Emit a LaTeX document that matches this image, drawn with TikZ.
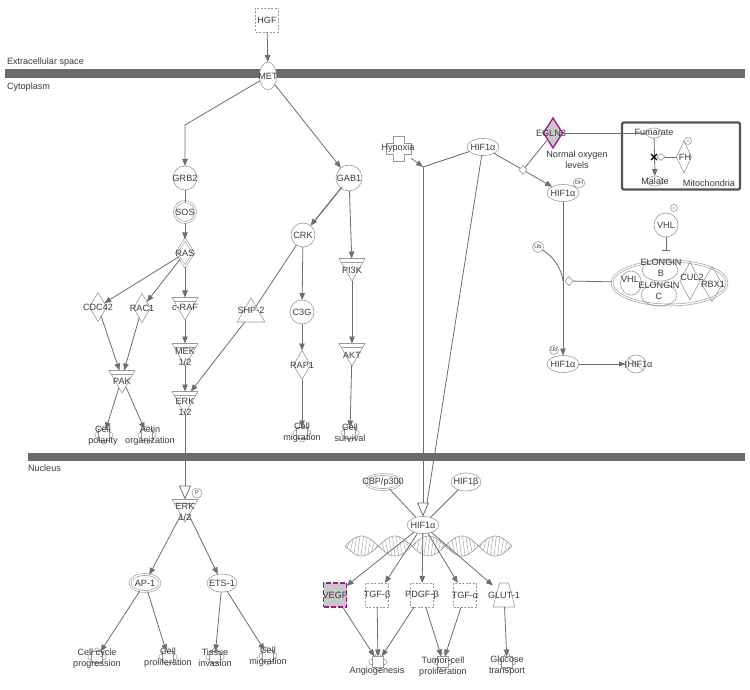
\documentclass[tikz,border=0pt]{standalone}
\usepackage{fontspec}
\setmainfont{Liberation Sans}
\usetikzlibrary{shapes.geometric,arrows.meta,calc}
\definecolor{ec}{HTML}{6E6E6E}
\definecolor{nc}{HTML}{9A9A9A}
\definecolor{tc}{HTML}{3A3A3A}
\definecolor{mem}{HTML}{6B6B6B}
\definecolor{mag}{HTML}{A0188C}
\definecolor{gfill}{HTML}{C8C8C8}
\definecolor{mitoc}{HTML}{555555}
\newcommand\fnode[6]{%
  \foreach \dx/\dy in {6.5/0,-6.5/0,0/6.5,0/-6.5}{\draw[draw=nc, fill=white, line width=0.5pt] (#2+\dx,#3+\dy) circle (2.6pt);}
  \node[fnsq] (#1) at (#2,#3) {};
  \node[lbl] at (#4,#5) {#6};}
\begin{document}
\begin{tikzpicture}[x=1pt,y=-1pt,
  every node/.style={inner sep=0pt, outer sep=0pt},
  lbl/.style={align=center, text=tc, font=\fontsize{9.1}{11}\selectfont},
  tiny/.style={text=tc, font=\fontsize{5.5}{5.5}\selectfont},
  nbase/.style={draw=nc, fill=white, line width=0.6pt},
  dbl/.style={double=white, double distance=1.3pt},
  circ/.style={nbase, circle, minimum size=24pt},
  ellp/.style={nbase, ellipse, minimum width=32pt, minimum height=17pt},
  dia/.style={nbase, diamond, minimum width=17pt, minimum height=29pt},
  kin/.style={nbase, regular polygon, regular polygon sides=3, shape border rotate=180, minimum size=30pt,
    path picture={\draw[nc, line width=0.6pt] ([yshift=-3.5pt]path picture bounding box.north west) -- ([yshift=-3.5pt]path picture bounding box.north east);}},
  phos/.style={nbase, regular polygon, regular polygon sides=3, minimum size=32pt},
  gf/.style={nbase, rectangle, dash pattern=on 2pt off 1.5pt, minimum width=23pt, minimum height=24pt},
  fnsq/.style={draw=nc, fill=white, rectangle, minimum size=11pt, line width=0.5pt},
  catd/.style={nbase, diamond, minimum width=8pt, minimum height=9pt},
  arr/.style={draw=ec, line width=0.8pt, -{Triangle[length=7pt,width=5.5pt]}},
  plain/.style={draw=ec, line width=0.8pt},
  openarr/.style={draw=ec, line width=0.8pt, -{Triangle[open,length=14pt,width=12pt]}},
  inh/.style={draw=ec, line width=0.8pt, -{Bar[width=8pt]}},
  arrbar/.style={draw=ec, line width=0.8pt, -{Triangle[length=6pt,width=5pt]Bar[width=7pt]}}
]
\fill[white] (0,0) rectangle (750,690);
\useasboundingbox (0,0) rectangle (750,690);
% membranes
\fill[mem] (5,69) rectangle (745,78);
\fill[mem] (28,453) rectangle (745,461);
\node[lbl, anchor=west] (lex) at (7,62) {Extracellular space};
\node[lbl, anchor=west] (lcy) at (7,87) {Cytoplasm};
\node[lbl, anchor=west] (lnu) at (28,468) {Nucleus};

% DNA helix
\draw[nc, line width=0.6pt] plot[domain=345:512, samples=150, smooth] (\x,{546+10*sin((\x-345)*5.389)});
\draw[nc, line width=0.6pt] plot[domain=345:512, samples=150, smooth] (\x,{546-10*sin((\x-345)*5.389)});
\foreach \xx in {347,350.5,...,510} \draw[nc, line width=0.4pt] (\xx,{546+10*sin((\xx-345)*5.389)}) -- (\xx+2.5,{546-10*sin((\xx+2.5-345)*5.389)});

% ---------- cytoplasm, left ----------
\node[gf] (hgf) at (267,20) {}; \node[lbl] at (267,20) {HGF};
\node[nbase, ellipse, minimum width=17pt, minimum height=28pt] (met) at (268,76) {}; \node[lbl] at (268,76) {MET};
\node[circ] (grb2) at (185,178) {}; \node[lbl] at (185,178) {GRB2};
\node[circ, dbl, minimum size=21pt] (sos) at (185,212) {}; \node[lbl] at (185,212) {SOS};
\node[dia, dbl, minimum height=27pt] (ras) at (185,253) {}; \node[lbl] at (185,253) {RAS};
\node[dia] (cdc42) at (98,307) {}; \node[lbl] at (98,307) {CDC42};
\node[dia] (rac1) at (142,308) {}; \node[lbl] at (142,308) {RAC1};
\node[kin] (craf) at (185,305) {}; \node[lbl] at (185,307) {c-RAF};
\node[phos] (shp2) at (251,314) {}; \node[lbl] at (251,310) {SHP-2};
\node[kin] (mek) at (185,351) {}; \node[lbl] at (185,357) {MEK\\1/2};
\node[kin] (erk) at (185,399) {}; \node[lbl] at (185,407) {ERK\\1/2};
\node[kin] (pak) at (122,378) {}; \node[lbl] at (122,381) {PAK};
\node[circ, minimum size=26pt] (gab1) at (349,178) {}; \node[lbl] at (349,178) {GAB1};
\node[circ] (crk) at (303,235) {}; \node[lbl] at (303,235) {CRK};
\node[circ] (c3g) at (302,312) {}; \node[lbl] at (302,312) {C3G};
\node[dia] (rap1) at (302,365) {}; \node[lbl] at (302,365) {RAP1};
\node[kin] (pi3k) at (352,266) {}; \node[lbl] at (352,270) {PI3K};
\node[kin] (akt) at (352,351) {}; \node[lbl] at (352,355) {AKT};
\fnode{polar}{104}{435}{103}{436}{Cell\\polarity}
\fnode{actin}{147}{435}{150}{436}{Actin\\organization}
\fnode{cmig1}{302}{433}{302}{433}{Cell\\migration}
\fnode{csurv}{350}{433}{350}{433}{Cell\\survival}
\coordinate (b1) at (185,125);

\draw[arr] (hgf) -- (met);
\draw[arr] (met) -- (b1) -- (grb2);
\draw[arr] (met) -- (gab1);
\draw[plain] (grb2) -- (sos);
\draw[arr] (sos) -- (ras);
\draw[arr] (ras) -- (cdc42);
\draw[arr] (ras) -- (rac1);
\draw[arr] (ras) -- (craf);
\draw[arr] (cdc42) -- (pak);
\draw[arr] (rac1) -- (pak);
\draw[arr] (pak) -- (polar);
\draw[arr] (pak) -- (actin);
\draw[arr] (craf) -- (mek);
\draw[arr] (mek) -- (erk);
\draw[arr] (gab1) -- (crk);
\draw[plain, transform canvas={shift={(1.6pt,1.4pt)}}] (gab1) -- (crk);
\draw[arr] (gab1) -- (pi3k);
\draw[arr] (crk) -- (c3g);
\draw[plain] (crk) -- (shp2);
\draw[arr] (shp2) -- (erk);
\draw[arr] (c3g) -- (rap1);
\draw[arr] (rap1) -- (cmig1);
\draw[arr] (pi3k) -- (akt);
\draw[arr] (akt) -- (csurv);

% ---------- cytoplasm, right ----------
\draw[nbase] (393,136) -- (404,136) -- (404,143) -- (411,143) -- (411,154) -- (404,154) -- (404,161) -- (393,161) -- (393,154) -- (386,154) -- (386,143) -- (393,143) -- cycle;
\node[minimum width=25pt, minimum height=25pt] (hyp) at (398.5,148.5) {};
\node[lbl] at (398,148) {Hypoxia};
\node[ellp] (hif1) at (483,147) {}; \node[lbl] at (483,147) {HIF1α};
\node[nbase, diamond, draw=mag, line width=1.3pt, fill=gfill, minimum width=19pt, minimum height=30pt] (egln3) at (553,133) {};
\node[lbl] at (551,133) {EGLN3};
\node[lbl] (nol) at (577,160) {Normal oxygen\\levels};
\node[ellp] (hifoh) at (563,193) {}; \node[lbl] at (563,193) {HIF1α};
\node[nbase, ellipse, minimum width=12pt, minimum height=9pt, tiny] (oh) at (579,183) {OH};

\node[draw=mitoc, line width=2.4pt, rounded corners=1.5pt, minimum width=118pt, minimum height=67pt] (mito) at (681,156) {};
\node[nbase, ellipse, minimum width=16pt, minimum height=10pt] (fum) at (654,133) {}; \node[lbl] at (654,132) {Fumarate};
\node[nbase, ellipse, minimum width=16pt, minimum height=10pt] (mal) at (655,181) {}; \node[lbl] at (655,181) {Malate};
\node[dia, minimum width=15pt, minimum height=32pt] (fh) at (684,157) {}; \node[lbl] at (685,157) {FH};
\node[nbase, circle, minimum size=7pt] (fhs) at (688,141) {}; \fill[nc] (fhs) circle (0.9pt);
\node[lbl] (mitol) at (709,183) {Mitochondria};
\node[catd, minimum width=8pt, minimum height=7pt] (cat2) at (661,157) {};
\draw[arr] (fum) -- (mal);
\draw[plain] (fh) -- (cat2);
\draw[black, line width=1.3pt] (651,154) -- (657,160) (651,160) -- (657,154);
\draw[plain] (egln3) -- (fum);

\node[circ] (vhl) at (666,225) {}; \node[lbl] at (666,225) {VHL};
\node[nbase, circle, minimum size=7pt] (vhls) at (674,208) {}; \fill[nc] (vhls) circle (0.9pt);
\node[nbase, ellipse, dbl, minimum width=115pt, minimum height=44pt] (cplx) at (669.5,283) {};
\node[draw=nc, line width=0.6pt, ellipse, minimum width=21pt, minimum height=24pt] (cvhl) at (631,283) {};
\node[draw=nc, line width=0.6pt, ellipse, minimum width=36pt, minimum height=22pt] (celb) at (660,270) {};
\node[draw=nc, line width=0.6pt, ellipse, minimum width=36pt, minimum height=22pt] (celc) at (659,295) {};
\node[draw=nc, line width=0.6pt, diamond, minimum width=20pt, minimum height=38pt] (ccul) at (690,281) {};
\node[draw=nc, line width=0.6pt, diamond, minimum width=21pt, minimum height=35pt] (crbx) at (712,284) {};
\node[lbl] at (630,279) {VHL};
\node[lbl] at (661,268) {ELONGIN\\B};
\node[lbl] at (659,291) {ELONGIN\\C};
\node[lbl] at (692,277) {CUL2};
\node[lbl] at (713,284) {RBX1};
\coordinate (vhlt) at (666,251);
\draw[inh] (vhl) -- (vhlt);

\node[nbase, circle, minimum size=11pt, tiny] (ub1) at (538,247) {Ub};
\node[catd] (cat3) at (569,281) {};
\coordinate (ubj) at (563,281);
\node[ellp] (hifub) at (563,364) {}; \node[lbl] at (563,364) {HIF1α};
\node[nbase, ellipse, minimum width=20pt, minimum height=18pt] (hifd) at (636,364) {};
\draw[nc, line width=0.6pt] (hifd.north west) -- (hifd.south east);
\node[lbl] at (640,364) {HIF1α};

\draw[arr] (hif1) -- node[pos=0.5, catd] (cat1) {} (hifoh);
\draw[plain] (egln3) -- (cat1);
\draw[arr] (hifoh) -- (hifub);
\node[nbase, circle, minimum size=9pt, tiny] (ub2) at (554,350) {Ub};
\draw[plain] (ub1) .. controls (552,256) and (561,266) .. (ubj);
\draw[plain] (cat3) -- (cplx);
\draw[arrbar] (hifub) -- (hifd);

% ---------- nucleus ----------
\node[kin] (erkn) at (185,507) {}; \node[lbl] at (185,512) {ERK\\1/2};
\node[nbase, circle, minimum size=10pt, tiny] (pn) at (197,493) {P};
\node[nbase, ellipse, dbl, minimum width=30pt, minimum height=17pt] (ap1) at (145,583) {}; \node[lbl] at (145,583) {AP-1};
\node[ellp, minimum width=30pt, minimum height=18pt] (ets1) at (222,583) {}; \node[lbl] at (222,583) {ETS-1};
\fnode{ccp}{97}{657}{97}{659}{Cell cycle\\progression}
\fnode{cprol}{168}{657}{168}{658}{Cell\\proliferation}
\fnode{tinv}{215}{657}{215}{658}{Tissue\\invasion}
\fnode{cmig2}{268}{656}{268}{657}{Cell\\migration}

\node[nbase, ellipse, dbl, minimum width=34pt, minimum height=15pt] (cbp) at (383,482) {}; \node[lbl] at (383,482) {CBP/p300};
\node[ellp, minimum width=30pt, minimum height=18pt] (hif1b) at (466,482) {}; \node[lbl] at (466,482) {HIF1β};
\node[ellp] (hifn) at (423,525) {}; \node[lbl] at (423,525) {HIF1α};
\node[gf, draw=mag, fill=gfill, line width=1.4pt, dash pattern=on 5pt off 2pt] (vegf) at (335,595) {}; \node[lbl] at (335,595) {VEGF};
\node[gf] (tgfb) at (377,595) {}; \node[lbl] at (377,595) {TGF-β};
\node[gf] (pdgfb) at (422,595) {}; \node[lbl] at (422,595) {PDGF-β};
\node[gf] (tgfa) at (465,595) {}; \node[lbl] at (465,595) {TGF-α};
\draw[nbase] (499.5,583) -- (508.5,583) -- (515,607) -- (493,607) -- cycle;
\node[minimum width=22pt, minimum height=24pt] (glut1) at (504,595) {}; \node[lbl] at (504,595) {GLUT-1};
\fnode{angio}{378}{662}{377}{671}{Angiogenesis}
\fnode{tumor}{443}{662}{443}{667}{Tumor-cell\\proliferation}
\fnode{gluc}{507}{662}{507}{666}{Glucose\\transport}

\coordinate (j) at (423,167);
\coordinate (jt) at (427,503);
\draw[arr] (hyp) -- (j);
\draw[plain] (hif1) -- (j);
\draw[openarr] (j) -- (hifn);
\draw[plain] (hif1) -- (jt);
\draw[openarr] (erk) -- (erkn);
\draw[arr] (erkn) -- (ap1);
\draw[arr] (erkn) -- (ets1);
\draw[arr] (ap1) -- (ccp);
\draw[arr] (ap1) -- (cprol);
\draw[arr] (ets1) -- (tinv);
\draw[arr] (ets1) -- (cmig2);
\draw[plain] (cbp) -- (hifn);
\draw[plain] (hif1b) -- (hifn);
\draw[arr] (hifn) -- (vegf);
\draw[arr] (hifn) -- (tgfb);
\draw[arr] (hifn) -- (pdgfb);
\draw[arr] (hifn) -- (tgfa);
\draw[arr] (hifn) -- (glut1);
\draw[arr] (vegf) -- (angio);
\draw[arr] (tgfb) -- (angio);
\draw[arr] (pdgfb) -- (angio);
\draw[arr] (pdgfb) -- (tumor);
\draw[arr] (tgfa) -- (tumor);
\draw[arr] (glut1) -- (gluc);
\end{tikzpicture}
\end{document}
